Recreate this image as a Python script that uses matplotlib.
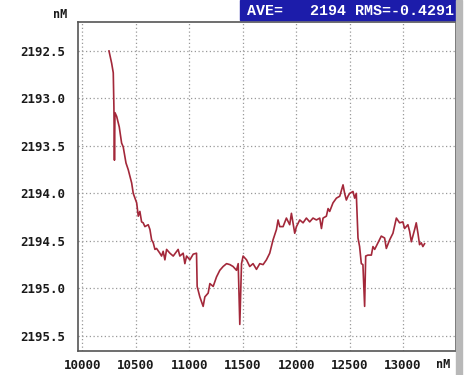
import matplotlib.pyplot as plt

# concentration readings (nM) against position (nM)
pos = [10248, 10273, 10288, 10294, 10299, 10304, 10320, 10344, 10366, 10381,
       10407, 10428, 10460, 10475, 10507, 10522, 10537, 10553, 10568, 10584,
       10615, 10631, 10647, 10662, 10678, 10693, 10724, 10740, 10755, 10771,
       10787, 10818, 10849, 10895, 10911, 10942, 10958, 10974, 11005, 11036,
       11067, 11073, 11098, 11129, 11145, 11176, 11192, 11223, 11254, 11285,
       11316, 11348, 11379, 11409, 11441, 11457, 11472, 11488, 11503, 11535,
       11565, 11596, 11628, 11659, 11690, 11721, 11752, 11783, 11815, 11830,
       11846, 11877, 11908, 11939, 11955, 11970, 11986, 12002, 12033, 12064,
       12095, 12126, 12157, 12189, 12220, 12236, 12251, 12282, 12298, 12313,
       12344, 12376, 12407, 12438, 12453, 12469, 12484, 12500, 12531, 12547,
       12562, 12578, 12593, 12609, 12624, 12640, 12650, 12671, 12703, 12718,
       12734, 12765, 12796, 12827, 12843, 12874, 12905, 12937, 12967, 12998,
       13014, 13045, 13061, 13077, 13108, 13123, 13139, 13154, 13170, 13185,
       13201]
conc = [2192.50, 2192.63, 2192.73, 2193.09, 2193.65, 2193.15, 2193.19, 2193.30, 2193.47, 2193.51,
        2193.68, 2193.75, 2193.89, 2194.00, 2194.10, 2194.24, 2194.19, 2194.30, 2194.31, 2194.35,
        2194.33, 2194.38, 2194.49, 2194.52, 2194.59, 2194.58, 2194.63, 2194.66, 2194.61, 2194.70,
        2194.59, 2194.63, 2194.66, 2194.59, 2194.66, 2194.63, 2194.74, 2194.66, 2194.70, 2194.64,
        2194.63, 2194.98, 2195.09, 2195.19, 2195.09, 2195.05, 2194.95, 2194.98, 2194.88, 2194.81,
        2194.77, 2194.74, 2194.75, 2194.77, 2194.81, 2194.74, 2195.38, 2194.74, 2194.66, 2194.70,
        2194.77, 2194.74, 2194.80, 2194.74, 2194.75, 2194.70, 2194.63, 2194.49, 2194.38, 2194.28,
        2194.35, 2194.35, 2194.26, 2194.33, 2194.21, 2194.31, 2194.42, 2194.35, 2194.28, 2194.31,
        2194.26, 2194.30, 2194.26, 2194.28, 2194.26, 2194.37, 2194.26, 2194.24, 2194.16, 2194.19,
        2194.10, 2194.05, 2194.03, 2193.91, 2194.00, 2194.07, 2194.03, 2194.00, 2193.98, 2194.05,
        2194.00, 2194.47, 2194.56, 2194.74, 2194.75, 2195.19, 2194.66, 2194.65, 2194.65, 2194.56,
        2194.59, 2194.52, 2194.45, 2194.47, 2194.58, 2194.49, 2194.42, 2194.26, 2194.31, 2194.30,
        2194.37, 2194.33, 2194.40, 2194.51, 2194.38, 2194.31, 2194.42, 2194.54, 2194.52, 2194.56,
        2194.53]

x_ticks = [10000, 10500, 11000, 11500, 12000, 12500, 13000]
y_ticks = [2192.5, 2193.0, 2193.5, 2194.0, 2194.5, 2195.0, 2195.5]
ave_text = 'AVE=   2194 RMS=-0.4291'

mono = 'DejaVu Sans Mono'

fig = plt.figure(figsize=(4.67, 3.75), dpi=100)
ax = fig.add_axes([78 / 467, 1 - 351 / 375, (456 - 78) / 467, (351 - 22) / 375])

ax.plot(pos, conc, color='#a3283a', lw=1.2)

ax.set_xlim(9958, 13495)
ax.set_ylim(2195.66, 2192.195)
ax.set_xticks(x_ticks)
ax.set_yticks(y_ticks)
ax.set_xticklabels([str(v) for v in x_ticks], family=mono, weight='bold',
                   fontsize=8.9, color='#1a1a1a')
ax.set_yticklabels(['%.1f' % v for v in y_ticks], family=mono, weight='bold',
                   fontsize=8.9, color='#1a1a1a')
ax.tick_params(axis='x', length=0, pad=6)
ax.tick_params(axis='y', length=0, pad=9)
ax.grid(True, ls=(0, (1, 2)), color='#999999', lw=0.9)
for s in ax.spines.values():
    s.set_color('#555555')
    s.set_linewidth(1.2)

# unit labels
fig.text(60 / 467, 1 - 14 / 375, 'nM', family=mono, weight='bold', fontsize=8.5,
         color='#1a1a1a', ha='center', va='center')
fig.text(443 / 467, 1 - 365 / 375, 'nM', family=mono, weight='bold', fontsize=8.5,
         color='#1a1a1a', ha='center', va='center')

# statistics banner
fig.patches.append(plt.Rectangle((240 / 467, 1 - 20 / 375), (456 - 240) / 467, 20 / 375,
                                 transform=fig.transFigure, color='#1c1caa', zorder=0))
fig.text(454 / 467, 1 - 11 / 375, ave_text, family='Liberation Mono', weight='bold',
         fontsize=10.8, color='white', ha='right', va='center')

# grey side bar
fig.patches.append(plt.Rectangle((456 / 467, 0), 6 / 467, 1,
                                 transform=fig.transFigure, color='#b8b8b8', zorder=0))

fig.savefig('out.png', dpi=100)
